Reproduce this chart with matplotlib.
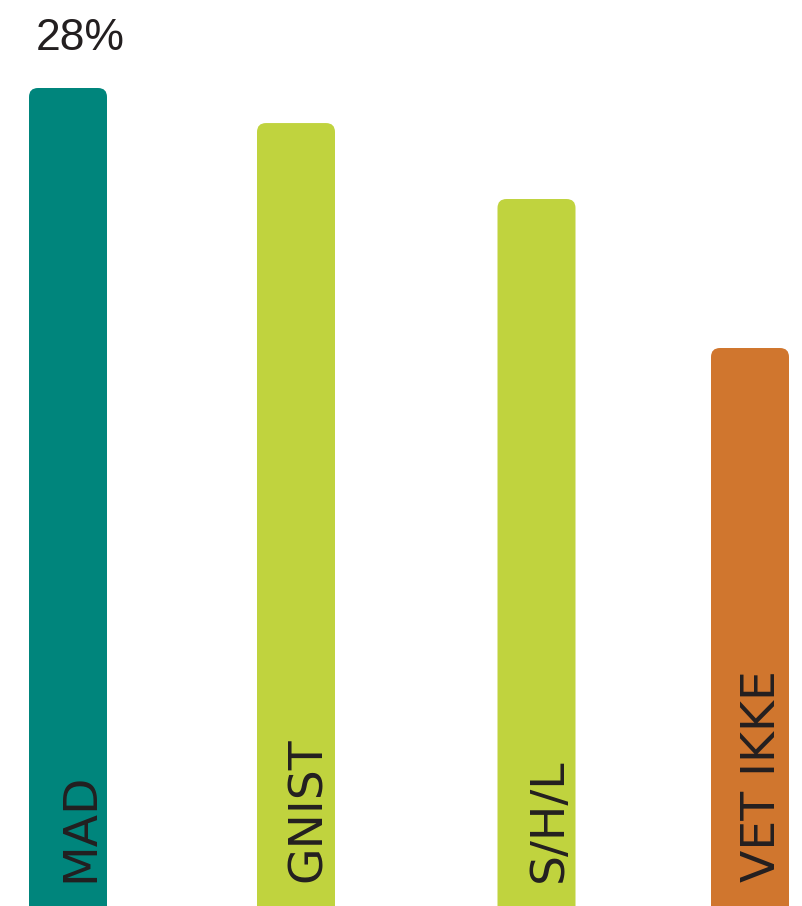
import matplotlib
matplotlib.use("Agg")
import matplotlib.pyplot as plt
from matplotlib.patches import FancyBboxPatch

# Values (only the first one is labelled).
categories = ["MAD", "GNIST", "S/H/L", "VET IKKE"]
values = [28, 26.8, 24.2, 19.1]
colors = ["#00857c", "#c0d33e", "#c0d33e", "#d0762e"]
top_label = "28%"

# Layout (bar centres in pixels across the 802 px canvas).
x_pos = [68, 296, 536.5, 750]
bar_width = 78

W, H = 802, 906
px_per_unit = 818 / 28  # vertical pixels per percent

fig = plt.figure(figsize=(W / 100, H / 100), dpi=100)
ax = fig.add_axes([0, 0, 1, 1])
ax.set_xlim(0, W)
ax.set_ylim(0, H / px_per_unit)
ax.axis("off")

bars = ax.bar(x_pos, values, width=bar_width, color=colors)

# Swap plain rectangles for ones with rounded tops.
for rect, c in zip(bars.patches, colors):
    x0, w, h = rect.get_x(), rect.get_width(), rect.get_height()
    rect.set_visible(False)
    ax.add_patch(
        FancyBboxPatch(
            (x0, -2), w, h + 2,
            boxstyle="round,pad=0,rounding_size=9",
            mutation_aspect=1 / px_per_unit,
            facecolor=c, edgecolor="none", zorder=2,
        )
    )

# Rotated category names at the foot of each bar.
for x, name in zip(x_pos, categories):
    ax.text(
        x + 25, 24 / px_per_unit, name,
        rotation=90, rotation_mode="anchor",
        ha="left", va="baseline",
        fontsize=34, color="#231f20", family="DejaVu Sans", zorder=3,
    )

# Value label over the first bar.
ax.text(
    x_pos[0] - bar_width / 2 + 7, values[0] + 1.3, top_label,
    ha="left", va="baseline",
    fontsize=32, color="#231f20", family="Liberation Sans",
)

fig.savefig("out.png", dpi=100)
